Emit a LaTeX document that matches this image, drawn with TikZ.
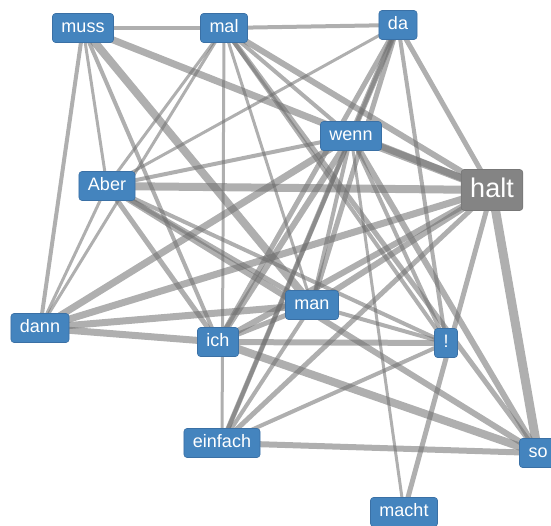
\documentclass[tikz,border=0pt]{standalone}
\usepackage{fontspec}
\newfontfamily\labelfont{Liberation Sans}
\usetikzlibrary{backgrounds}
\definecolor{wordblue}{RGB}{68,132,190}
\definecolor{wordedge}{RGB}{58,112,165}
\definecolor{hubgray}{RGB}{132,132,132}
\definecolor{linkgray}{RGB}{110,110,110}
\begin{document}
\begin{tikzpicture}[x=1pt,y=-1pt,
  word/.style={fill=wordblue, draw=wordedge, line width=0.6pt, rounded corners=3pt,
    text=white, font=\labelfont\fontsize{18}{18}\selectfont,
    inner xsep=9pt, inner ysep=6pt, text height=13pt, text depth=4pt},
  hub/.style={fill=hubgray, draw=hubgray!90!black, line width=0.6pt, rounded corners=3pt,
    text=white, font=\labelfont\fontsize{27}{27}\selectfont,
    inner xsep=9pt, inner ysep=8pt, text height=19.5pt, text depth=5.5pt},
  link/.style={draw=linkgray, opacity=0.55, line width=#1}]
\useasboundingbox (0,0) rectangle (551,525);
% word nodes
\node[word] (muss)    at (83,28)   {muss};
\node[word] (mal)     at (224,28)  {mal};
\node[word] (da)      at (398,25)  {da};
\node[word] (wenn)    at (351,136) {wenn};
\node[word] (aber)    at (107,186) {Aber};
\node[hub]  (halt)    at (492,190) {halt};
\node[word] (dann)    at (40,328)  {dann};
\node[word] (man)     at (312,305) {man};
\node[word] (ich)     at (218,342) {ich};
\node[word] (excl)    at (446,343) {!};
\node[word] (einfach) at (222,443) {einfach};
\node[word] (so)      at (538,453) {so};
\node[word] (macht)   at (404,512) {macht};
% co-occurrence links, drawn underneath the words
\begin{scope}[on background layer]
\foreach \a/\b/\w in {
  muss/mal/4, muss/dann/4, muss/aber/3, muss/ich/4, muss/man/8, muss/halt/7,
  mal/da/4, mal/aber/3, mal/dann/3, mal/einfach/3, mal/man/3, mal/excl/4,
  mal/so/5, mal/halt/6, mal/wenn/4,
  da/wenn/6, da/aber/3, da/ich/5, da/man/5, da/einfach/4, da/excl/4, da/halt/5,
  wenn/halt/8, wenn/aber/4, wenn/dann/7, wenn/ich/6, wenn/einfach/5, wenn/man/4,
  wenn/excl/4, wenn/so/6, wenn/macht/3,
  aber/halt/8, aber/ich/5, aber/man/5, aber/excl/4, aber/so/6, aber/dann/3,
  halt/dann/7, halt/ich/6, halt/man/6, halt/einfach/5, halt/so/9, halt/macht/5,
  dann/man/7, dann/ich/7,
  ich/man/5, ich/excl/6, ich/so/8,
  man/excl/4, man/einfach/4,
  einfach/so/6, einfach/excl/4}
  \draw[link=\w pt] (\a.center) -- (\b.center);
\end{scope}
\end{tikzpicture}
\end{document}
